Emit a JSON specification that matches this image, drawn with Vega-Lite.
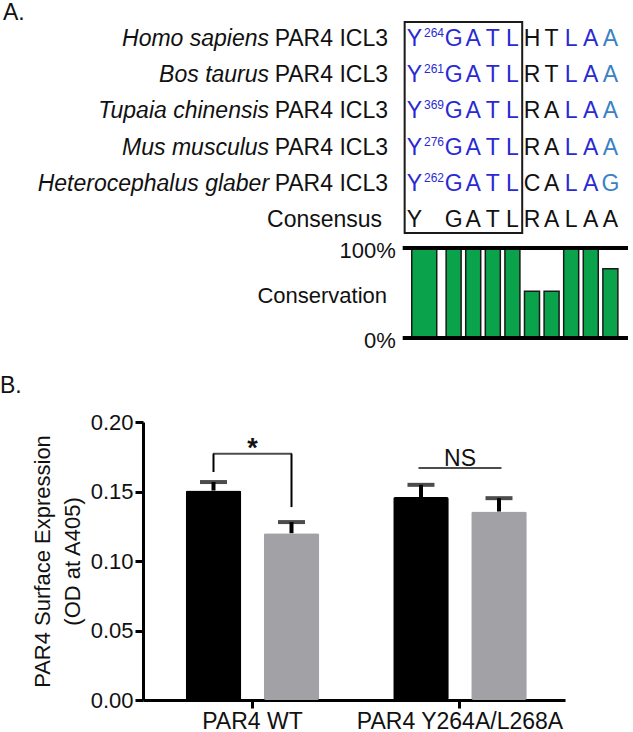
{
  "$schema": "https://vega.github.io/schema/vega-lite/v6.json",
  "padding": 0,
  "spacing": 15,
  "background": "white",
  "config": {"font": "Liberation Sans", "view": {"stroke": null}},
  "datasets": {
    "letters": [
      {"row":0,"col":0,"aa":"Y","k":"id"},{"row":0,"col":2,"aa":"G","k":"id"},{"row":0,"col":3,"aa":"A","k":"id"},{"row":0,"col":4,"aa":"T","k":"id"},{"row":0,"col":5,"aa":"L","k":"id"},{"row":0,"col":6,"aa":"H","k":"none"},{"row":0,"col":7,"aa":"T","k":"none"},{"row":0,"col":8,"aa":"L","k":"id"},{"row":0,"col":9,"aa":"A","k":"id"},{"row":0,"col":10,"aa":"A","k":"sim"},
      {"row":1,"col":0,"aa":"Y","k":"id"},{"row":1,"col":2,"aa":"G","k":"id"},{"row":1,"col":3,"aa":"A","k":"id"},{"row":1,"col":4,"aa":"T","k":"id"},{"row":1,"col":5,"aa":"L","k":"id"},{"row":1,"col":6,"aa":"R","k":"none"},{"row":1,"col":7,"aa":"T","k":"none"},{"row":1,"col":8,"aa":"L","k":"id"},{"row":1,"col":9,"aa":"A","k":"id"},{"row":1,"col":10,"aa":"A","k":"sim"},
      {"row":2,"col":0,"aa":"Y","k":"id"},{"row":2,"col":2,"aa":"G","k":"id"},{"row":2,"col":3,"aa":"A","k":"id"},{"row":2,"col":4,"aa":"T","k":"id"},{"row":2,"col":5,"aa":"L","k":"id"},{"row":2,"col":6,"aa":"R","k":"none"},{"row":2,"col":7,"aa":"A","k":"none"},{"row":2,"col":8,"aa":"L","k":"id"},{"row":2,"col":9,"aa":"A","k":"id"},{"row":2,"col":10,"aa":"A","k":"sim"},
      {"row":3,"col":0,"aa":"Y","k":"id"},{"row":3,"col":2,"aa":"G","k":"id"},{"row":3,"col":3,"aa":"A","k":"id"},{"row":3,"col":4,"aa":"T","k":"id"},{"row":3,"col":5,"aa":"L","k":"id"},{"row":3,"col":6,"aa":"R","k":"none"},{"row":3,"col":7,"aa":"A","k":"none"},{"row":3,"col":8,"aa":"L","k":"id"},{"row":3,"col":9,"aa":"A","k":"id"},{"row":3,"col":10,"aa":"A","k":"sim"},
      {"row":4,"col":0,"aa":"Y","k":"id"},{"row":4,"col":2,"aa":"G","k":"id"},{"row":4,"col":3,"aa":"A","k":"id"},{"row":4,"col":4,"aa":"T","k":"id"},{"row":4,"col":5,"aa":"L","k":"id"},{"row":4,"col":6,"aa":"C","k":"none"},{"row":4,"col":7,"aa":"A","k":"none"},{"row":4,"col":8,"aa":"L","k":"id"},{"row":4,"col":9,"aa":"A","k":"id"},{"row":4,"col":10,"aa":"G","k":"sim"},
      {"row":5,"col":0,"aa":"Y","k":"cons"},{"row":5,"col":2,"aa":"G","k":"cons"},{"row":5,"col":3,"aa":"A","k":"cons"},{"row":5,"col":4,"aa":"T","k":"cons"},{"row":5,"col":5,"aa":"L","k":"cons"},{"row":5,"col":6,"aa":"R","k":"cons"},{"row":5,"col":7,"aa":"A","k":"cons"},{"row":5,"col":8,"aa":"L","k":"cons"},{"row":5,"col":9,"aa":"A","k":"cons"},{"row":5,"col":10,"aa":"A","k":"cons"}
    ],
    "sups": [
      {"row":0,"num":"264"},{"row":1,"num":"261"},{"row":2,"num":"369"},{"row":3,"num":"276"},{"row":4,"num":"262"}
    ],
    "species": [
      {"row":0,"species":"Homo sapiens","suffix":"PAR4 ICL3"},
      {"row":1,"species":"Bos taurus","suffix":"PAR4 ICL3"},
      {"row":2,"species":"Tupaia chinensis","suffix":"PAR4 ICL3"},
      {"row":3,"species":"Mus musculus","suffix":"PAR4 ICL3"},
      {"row":4,"species":"Heterocephalus glaber","suffix":"PAR4 ICL3"}
    ],
    "conservation": [
      {"col":2,"pct":100},{"col":3,"pct":100},{"col":4,"pct":100},{"col":5,"pct":100},
      {"col":6,"pct":52},{"col":7,"pct":52},{"col":8,"pct":100},{"col":9,"pct":100},{"col":10,"pct":77}
    ],
    "conservationY": [{"col":0.5,"pct":100}],
    "surface": [
      {"construct":"PAR4 WT","series":"series 1","mean":0.1507,"upper":0.1568},
      {"construct":"PAR4 WT","series":"series 2","mean":0.1200,"upper":0.1280},
      {"construct":"PAR4 Y264A/L268A","series":"series 1","mean":0.1460,"upper":0.1548},
      {"construct":"PAR4 Y264A/L268A","series":"series 2","mean":0.1356,"upper":0.1452}
    ]
  },
  "vconcat": [
    {
      "width": 490,
      "height": 360,
      "resolve": {"scale": {"y": "independent", "x": "shared", "color": "independent"}},
      "layer": [
        {
          "data": {"values": [{}]},
          "mark": {"type": "rect", "filled": false, "stroke": "#1a1a1a", "strokeWidth": 2},
          "encoding": {
            "x": {"datum": -0.5, "type": "quantitative", "scale": {"domain": [-13.6, 10.9], "nice": false, "zero": false}, "axis": null},
            "x2": {"datum": 5.5},
            "y": {"datum": -0.663, "type": "quantitative", "scale": {"domain": [-1.2707, 8.674], "reverse": true, "nice": false, "zero": false}, "axis": null},
            "y2": {"datum": 5.166}
          }
        },
        {
          "data": {"name": "letters"},
          "mark": {"type": "text", "fontSize": 23, "align": "center", "baseline": "alphabetic"},
          "encoding": {
            "x": {"field": "col", "type": "quantitative", "scale": {"domain": [-13.6, 10.9], "nice": false, "zero": false}, "axis": null},
            "y": {"field": "row", "type": "quantitative", "scale": {"domain": [-1.2707, 8.674], "reverse": true, "nice": false, "zero": false}, "axis": null},
            "text": {"field": "aa"},
            "color": {"field": "k", "type": "nominal", "scale": {"domain": ["id", "sim", "none", "cons"], "range": ["#2a2ad4", "#3a82c4", "#111111", "#111111"]}, "legend": null}
          }
        },
        {
          "data": {"name": "sups"},
          "mark": {"type": "text", "fontSize": 12, "align": "center", "baseline": "alphabetic", "dy": -9, "color": "#2a2ad4"},
          "encoding": {
            "x": {"datum": 1.0, "type": "quantitative", "scale": {"domain": [-13.6, 10.9], "nice": false, "zero": false}, "axis": null},
            "y": {"field": "row", "type": "quantitative", "scale": {"domain": [-1.2707, 8.674], "reverse": true, "nice": false, "zero": false}, "axis": null},
            "text": {"field": "num"}
          }
        },
        {
          "data": {"name": "species"},
          "mark": {"type": "text", "fontSize": 23, "fontStyle": "italic", "align": "right", "baseline": "alphabetic", "color": "#111111"},
          "encoding": {
            "x": {"datum": -7.42, "type": "quantitative", "scale": {"domain": [-13.6, 10.9], "nice": false, "zero": false}, "axis": null},
            "y": {"field": "row", "type": "quantitative", "scale": {"domain": [-1.2707, 8.674], "reverse": true, "nice": false, "zero": false}, "axis": null},
            "text": {"field": "species"}
          }
        },
        {
          "data": {"name": "species"},
          "mark": {"type": "text", "fontSize": 23, "align": "right", "baseline": "alphabetic", "color": "#111111"},
          "encoding": {
            "x": {"datum": -1.35, "type": "quantitative", "scale": {"domain": [-13.6, 10.9], "nice": false, "zero": false}, "axis": null},
            "y": {"field": "row", "type": "quantitative", "scale": {"domain": [-1.2707, 8.674], "reverse": true, "nice": false, "zero": false}, "axis": null},
            "text": {"field": "suffix"}
          }
        },
        {
          "data": {"values": [{"row": 5, "label": "Consensus"}]},
          "mark": {"type": "text", "fontSize": 23, "align": "right", "baseline": "alphabetic", "color": "#111111"},
          "encoding": {
            "x": {"datum": -1.65, "type": "quantitative", "scale": {"domain": [-13.6, 10.9], "nice": false, "zero": false}, "axis": null},
            "y": {"field": "row", "type": "quantitative", "scale": {"domain": [-1.2707, 8.674], "reverse": true, "nice": false, "zero": false}, "axis": null},
            "text": {"field": "label"}
          }
        },
        {
          "data": {"values": [{"label": "A."}]},
          "mark": {"type": "text", "fontSize": 23, "align": "left", "baseline": "alphabetic", "color": "#111111"},
          "encoding": {
            "x": {"datum": -21.0, "type": "quantitative", "scale": {"domain": [-13.6, 10.9], "nice": false, "zero": false}, "axis": null},
            "y": {"datum": -0.718, "type": "quantitative", "scale": {"domain": [-1.2707, 8.674], "reverse": true, "nice": false, "zero": false}, "axis": null},
            "text": {"field": "label"}
          }
        },
        {
          "data": {"name": "conservation"},
          "mark": {"type": "bar", "orient": "vertical", "width": 15, "fill": "#0ba24c", "stroke": "#1a1a1a", "strokeWidth": 1.5},
          "encoding": {
            "x": {"field": "col", "type": "quantitative", "scale": {"domain": [-13.6, 10.9], "nice": false, "zero": false}, "axis": null},
            "y": {"field": "pct", "type": "quantitative", "scale": {"domain": [-24.44, 375.56], "nice": false, "zero": false}, "axis": null}
          }
        },
        {
          "data": {"name": "conservationY"},
          "mark": {"type": "bar", "orient": "vertical", "width": 25, "fill": "#0ba24c", "stroke": "#1a1a1a", "strokeWidth": 1.5},
          "encoding": {
            "x": {"field": "col", "type": "quantitative", "scale": {"domain": [-13.6, 10.9], "nice": false, "zero": false}, "axis": null},
            "y": {"field": "pct", "type": "quantitative", "scale": {"domain": [-24.44, 375.56], "nice": false, "zero": false}, "axis": null}
          }
        },
        {
          "data": {"values": [{"pct": 0}, {"pct": 100}]},
          "mark": {"type": "rule", "strokeWidth": 4, "color": "#000000"},
          "encoding": {
            "x": {"datum": -0.6, "type": "quantitative", "scale": {"domain": [-13.6, 10.9], "nice": false, "zero": false}, "axis": null},
            "x2": {"datum": 10.9},
            "y": {"field": "pct", "type": "quantitative", "scale": {"domain": [-24.44, 375.56], "nice": false, "zero": false}, "axis": null}
          }
        },
        {
          "data": {"values": [{"pct": 100, "label": "100%"}, {"pct": 0, "label": "0%"}]},
          "mark": {"type": "text", "fontSize": 22, "align": "right", "baseline": "middle", "dy": 3, "color": "#111111"},
          "encoding": {
            "x": {"datum": -0.95, "type": "quantitative", "scale": {"domain": [-13.6, 10.9], "nice": false, "zero": false}, "axis": null},
            "y": {"field": "pct", "type": "quantitative", "scale": {"domain": [-24.44, 375.56], "nice": false, "zero": false}, "axis": null},
            "text": {"field": "label"}
          }
        },
        {
          "data": {"values": [{"pct": 50, "label": "Conservation"}]},
          "mark": {"type": "text", "fontSize": 22, "align": "right", "baseline": "middle", "dy": 3, "color": "#111111"},
          "encoding": {
            "x": {"datum": -1.4, "type": "quantitative", "scale": {"domain": [-13.6, 10.9], "nice": false, "zero": false}, "axis": null},
            "y": {"field": "pct", "type": "quantitative", "scale": {"domain": [-24.44, 375.56], "nice": false, "zero": false}, "axis": null},
            "text": {"field": "label"}
          }
        }
      ]
    },
    {
      "width": 422,
      "height": 278,
      "title": {"text": "B.", "anchor": "start", "frame": "group", "dx": -143, "offset": -5, "fontSize": 23, "fontWeight": "normal", "baseline": "alphabetic", "color": "#111111"},
      "encoding": {
        "x": {
          "field": "construct", "type": "nominal", "sort": ["PAR4 WT", "PAR4 Y264A/L268A"],
          "scale": {"paddingInner": 0, "paddingOuter": 0.0169, "align": 0.82},
          "axis": {"title": null, "labelAngle": 0, "labelFontSize": 23, "labelLimit": 400, "labelColor": "#111111", "labelPadding": 2, "tickSize": 8, "tickWidth": 3, "tickColor": "#000000", "domainWidth": 3, "domainColor": "#000000"}
        }
      },
      "layer": [
        {
          "data": {"name": "surface"},
          "mark": {"type": "bar", "cornerRadius": 2},
          "encoding": {
            "xOffset": {"field": "series", "type": "nominal", "scale": {"paddingInner": 0.288, "paddingOuter": 0.474}},
            "y": {
              "field": "mean", "type": "quantitative",
              "scale": {"domain": [0, 0.2], "nice": false},
              "axis": {"values": [0, 0.05, 0.1, 0.15, 0.2], "format": ".2f", "grid": false, "title": ["PAR4 Surface Expression", "(OD at A405)"], "titleFontSize": 22, "titleFontWeight": "normal", "titleColor": "#111111", "titlePadding": 6, "titleLineHeight": 30, "labelFontSize": 22, "labelColor": "#111111", "labelPadding": 2, "tickSize": 8, "tickWidth": 3, "tickColor": "#000000", "domainWidth": 3, "domainColor": "#000000"}
            },
            "color": {"field": "series", "type": "nominal", "scale": {"domain": ["series 1", "series 2"], "range": ["#000000", "#a2a2a6"]}, "legend": null}
          }
        },
        {
          "data": {"name": "surface"},
          "mark": {"type": "rule", "strokeWidth": 4, "color": "#000000"},
          "encoding": {
            "xOffset": {"field": "series", "type": "nominal", "scale": {"paddingInner": 0.288, "paddingOuter": 0.474}},
            "y": {"field": "mean", "type": "quantitative"},
            "y2": {"field": "upper"}
          }
        },
        {
          "data": {"name": "surface"},
          "mark": {"type": "tick", "size": 27, "thickness": 4, "color": "#000000", "orient": "horizontal"},
          "encoding": {
            "xOffset": {"field": "series", "type": "nominal", "scale": {"paddingInner": 0.288, "paddingOuter": 0.474}},
            "y": {"field": "upper", "type": "quantitative"}
          }
        },
        {
          "data": {"values": [
            {"construct": "PAR4 WT", "series": "series 1", "lo": 0.164, "hi": 0.1772},
            {"construct": "PAR4 WT", "series": "series 2", "lo": 0.1388, "hi": 0.1772}
          ]},
          "mark": {"type": "rule", "strokeWidth": 2, "color": "#000000"},
          "encoding": {
            "xOffset": {"field": "series", "type": "nominal", "scale": {"paddingInner": 0.288, "paddingOuter": 0.474}},
            "y": {"field": "lo", "type": "quantitative"},
            "y2": {"field": "hi"}
          }
        },
        {
          "data": {"values": [{"construct": "PAR4 WT", "y": 0.1772}]},
          "mark": {"type": "tick", "size": 79, "thickness": 2, "color": "#000000", "orient": "horizontal"},
          "encoding": {"y": {"field": "y", "type": "quantitative"}}
        },
        {
          "data": {"values": [{"construct": "PAR4 Y264A/L268A", "y": 0.1669}]},
          "mark": {"type": "tick", "size": 83, "thickness": 2, "color": "#000000", "orient": "horizontal"},
          "encoding": {"y": {"field": "y", "type": "quantitative"}}
        },
        {
          "data": {"values": [{"construct": "PAR4 WT", "label": "*", "y": 0.1745}]},
          "mark": {"type": "text", "fontSize": 27, "fontWeight": "bold", "baseline": "alphabetic", "align": "center", "color": "#111111"},
          "encoding": {
            "y": {"field": "y", "type": "quantitative"},
            "text": {"field": "label"}
          }
        },
        {
          "data": {"values": [{"construct": "PAR4 Y264A/L268A", "label": "NS", "y": 0.1681}]},
          "mark": {"type": "text", "fontSize": 23, "baseline": "alphabetic", "align": "center", "color": "#111111"},
          "encoding": {
            "y": {"field": "y", "type": "quantitative"},
            "text": {"field": "label"}
          }
        }
      ]
    }
  ]
}
